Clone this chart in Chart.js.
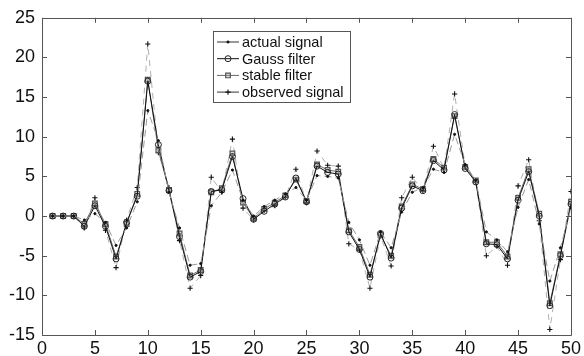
<!DOCTYPE html>
<html>
<head>
<meta charset="utf-8">
<script src="https://cdn.jsdelivr.net/npm/chart.js@4.4.1/dist/chart.umd.min.js"></script>
<style>
    html, body { margin: 0; padding: 0; background: #fff; }
    #wrap { width: 584px; height: 356px; }
</style>
</head>
<body>
<div id="wrap"><canvas id="chart" width="584" height="356"></canvas></div>
<script>
// sample index (time steps)
const steps = [];
for (let i = 1; i <= 50; i++) steps.push(i);

// series
const actualSignal = [0, 0, 0, -0.5, 0.3, -0.8, -3.7, -1.5, 1.8, 13.3,
    9.5, 3.0, -1.5, -6.2, -6.0, 1.3, 3.0, 5.8, 2.0, 0.0,
    1.2, 2.0, 2.8, 3.6, 2.0, 5.1, 5.0, 4.8, -0.8, -3.0,
    -6.2, -2.0, -4.0, 0.5, 3.0, 3.6, 5.9, 5.5, 10.3, 6.5,
    4.5, -2.0, -3.0, -4.5, 1.1, 4.6, -1.0, -8.2, -4.0, 1.0];
const gaussFilter = [0, 0, 0, -1.3, 1.3, -1.3, -5.4, -0.8, 2.5, 17.0,
    9.0, 3.2, -2.6, -7.7, -7.0, 3.1, 3.3, 7.5, 2.2, -0.4,
    0.6, 1.5, 2.4, 4.8, 1.8, 6.3, 5.5, 5.3, -2.0, -4.2,
    -7.7, -2.2, -5.3, 1.0, 3.8, 3.2, 7.0, 5.8, 12.8, 6.0,
    4.3, -3.5, -3.6, -5.4, 2.0, 5.6, 0.0, -11.3, -5.0, 1.5];
const stableFilter = [0, 0, 0, -1.0, 1.6, -1.0, -5.1, -1.0, 2.8, 17.2,
    8.3, 3.3, -2.2, -7.5, -6.8, 3.0, 3.5, 7.9, 1.7, -0.3,
    0.9, 1.7, 2.6, 4.6, 1.9, 6.5, 5.8, 5.6, -1.8, -3.9,
    -7.4, -2.4, -5.0, 1.2, 4.0, 3.4, 7.2, 6.1, 12.6, 6.2,
    4.5, -3.3, -3.3, -5.1, 2.3, 5.9, 0.3, -11.0, -4.8, 1.8];
const observedSignal = [0, 0, 0, -1.5, 2.3, -1.8, -6.5, -0.5, 3.6, 21.7,
    8.0, 3.6, -3.1, -9.1, -7.5, 4.9, 3.0, 9.7, 1.0, -0.5,
    0.7, 1.3, 2.4, 5.9, 1.7, 8.2, 6.4, 6.3, -3.5, -4.3,
    -9.1, -2.5, -6.3, 2.3, 4.9, 3.2, 8.8, 6.0, 15.4, 6.3,
    4.3, -5.0, -3.8, -6.2, 3.8, 7.1, -0.6, -14.3, -5.5, 3.1];

const seriesNames = ['actual signal', 'Gauss filter', 'stable filter', 'observed signal'];

// axis ranges / ticks
const xMin = 0, xMax = 50, xStep = 5;
const yMin = -15, yMax = 25, yStep = 5;

const FONT = 'Arial, "Liberation Sans", Helvetica, sans-serif';

function toPoints(values) {
    return values.map((v, i) => ({ x: steps[i], y: v }));
}

// box around the plot with inward ticks on all four sides
const boxPlugin = {
    id: 'matlabBox',
    afterDatasetsDraw(chart) {
        const ctx = chart.ctx;
        const a = chart.chartArea;
        const xs = chart.scales.x, ys = chart.scales.y;
        const tl = 5;
        ctx.save();
        ctx.strokeStyle = '#555';
        ctx.lineWidth = 1;
        ctx.beginPath();
        ctx.rect(Math.round(a.left) + 0.5, Math.round(a.top) + 0.5,
            Math.round(a.right - a.left), Math.round(a.bottom - a.top));
        xs.ticks.forEach(t => {
            const px = Math.round(xs.getPixelForValue(t.value)) + 0.5;
            ctx.moveTo(px, a.bottom); ctx.lineTo(px, a.bottom - tl);
            ctx.moveTo(px, a.top); ctx.lineTo(px, a.top + tl);
        });
        ys.ticks.forEach(t => {
            const py = Math.round(ys.getPixelForValue(t.value)) + 0.5;
            ctx.moveTo(a.left, py); ctx.lineTo(a.left + tl, py);
            ctx.moveTo(a.right, py); ctx.lineTo(a.right - tl, py);
        });
        ctx.stroke();
        ctx.restore();
    }
};

// legend box sitting inside the plot, like the original figure
const legendPlugin = {
    id: 'innerLegend',
    afterDraw(chart) {
        const ctx = chart.ctx;
        const bx = 213, by = 31, bw = 137, bh = 71;
        ctx.save();
        ctx.fillStyle = '#fff';
        ctx.fillRect(bx, by, bw, bh);
        ctx.strokeStyle = '#555';
        ctx.lineWidth = 1;
        ctx.strokeRect(bx + 0.5, by + 0.5, bw, bh);
        ctx.font = '14.5px ' + FONT;
        ctx.textBaseline = 'middle';
        chart.data.datasets.forEach((ds, i) => {
            const y = 42 + i * 16.7;
            ctx.strokeStyle = ds.legendLine || ds.borderColor;
            ctx.lineWidth = 1;
            ctx.setLineDash([]);
            ctx.beginPath();
            ctx.moveTo(217, y);
            ctx.lineTo(239, y);
            ctx.stroke();
            ctx.strokeStyle = ds.pointBorderColor;
            ctx.fillStyle = ds.pointBackgroundColor;
            ctx.lineWidth = ds.pointBorderWidth;
            Chart.helpers.drawPoint(ctx, {
                pointStyle: ds.pointStyle,
                radius: ds.pointRadius,
                rotation: 0,
                borderWidth: ds.pointBorderWidth
            }, 228, y);
            ctx.fillStyle = '#111';
            ctx.fillText(ds.label, 242, y + 1);
        });
        ctx.restore();
    }
};

const chart = new Chart(document.getElementById('chart').getContext('2d'), {
    type: 'line',
    data: {
        datasets: [
            {
                label: seriesNames[0],
                data: toPoints(actualSignal),
                borderColor: '#9a9a9a',
                legendLine: '#333',
                borderDash: [7, 4],
                borderWidth: 1,
                pointStyle: 'circle',
                pointRadius: 1.1,
                pointBorderWidth: 1,
                pointBorderColor: '#111',
                pointBackgroundColor: '#111'
            },
            {
                label: seriesNames[1],
                data: toPoints(gaussFilter),
                borderColor: '#111',
                borderWidth: 1,
                pointStyle: 'circle',
                pointRadius: 3,
                pointBorderWidth: 1,
                pointBorderColor: '#222',
                pointBackgroundColor: 'rgba(255,255,255,0)'
            },
            {
                label: seriesNames[2],
                data: toPoints(stableFilter),
                borderColor: '#6a6a6a',
                borderWidth: 1,
                pointStyle: 'rect',
                pointRadius: 3.3,
                pointBorderWidth: 1.2,
                pointBorderColor: '#555',
                pointBackgroundColor: 'rgba(160,160,160,0.35)'
            },
            {
                label: seriesNames[3],
                data: toPoints(observedSignal),
                borderColor: '#b0b0b0',
                legendLine: '#333',
                borderDash: [6, 5],
                borderWidth: 1,
                pointStyle: 'cross',
                pointRadius: 2.6,
                pointBorderWidth: 1.1,
                pointBorderColor: '#111',
                pointBackgroundColor: '#111'
            }
        ]
    },
    options: {
        responsive: false,
        animation: false,
        devicePixelRatio: 1,
        layout: { padding: { top: 16, right: 11, left: 0, bottom: 0 } },
        elements: { line: { tension: 0 } },
        plugins: {
            legend: { display: false },
            tooltip: { enabled: false }
        },
        scales: {
            x: {
                type: 'linear',
                min: xMin,
                max: xMax,
                border: { display: false },
                grid: { display: false, drawTicks: false },
                ticks: {
                    stepSize: xStep,
                    padding: 3,
                    color: '#111',
                    maxRotation: 0,
                    font: { family: FONT, size: 18 }
                },
                afterFit(s) { s.height = 21; }
            },
            y: {
                min: yMin,
                max: yMax,
                border: { display: false },
                grid: { display: false, drawTicks: false },
                ticks: {
                    stepSize: yStep,
                    padding: 7,
                    color: '#111',
                    font: { family: FONT, size: 18 }
                },
                afterFit(s) { s.width = 42; }
            }
        }
    },
    plugins: [boxPlugin, legendPlugin]
});
</script>
</body>
</html>
